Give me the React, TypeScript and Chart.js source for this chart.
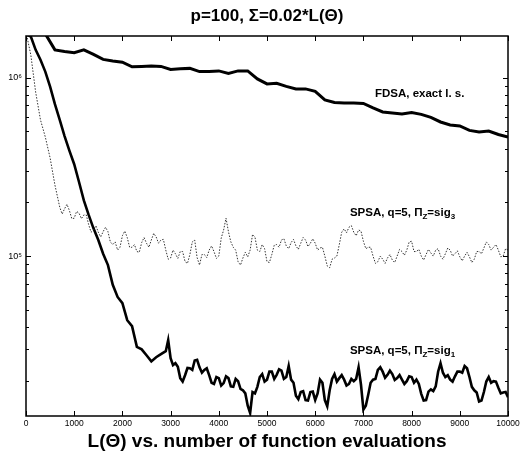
import React, { useEffect, useRef } from "react";
import { Chart, registerables } from "chart.js";

Chart.register(...registerables);

const FONT = "'Liberation Sans', Arial, Helvetica, sans-serif";

const TITLE = "p=100, Σ=0.02*L(Θ)";
const X_TITLE = "L(Θ) vs. number of function evaluations";

const X_TICKS = [0, 1000, 2000, 3000, 4000, 5000, 6000, 7000, 8000, 9000, 10000];
const Y_MAJOR = [1e5, 1e6];
const Y_MINOR = [2e4, 3e4, 4e4, 5e4, 6e4, 7e4, 8e4, 9e4, 2e5, 3e5, 4e5, 5e5, 6e5, 7e5, 8e5, 9e5];
const Y_MIN = 1.27e4;
const Y_MAX = 1.71e6;

// FDSA, exact line search (one iteration every 200 evaluations)
const fdsaX = [0, 200, 400, 600, 800, 1000, 1200, 1400, 1600, 1800, 2000, 2200, 2400, 2600, 2800, 3000, 3200, 3400, 3600, 3800, 4000, 4200, 4400, 4600, 4800, 5000, 5200, 5400, 5600, 5800, 6000, 6200, 6400, 6600, 6800, 7000, 7200, 7400, 7600, 7800, 8000, 8200, 8400, 8600, 8800, 9000, 9200, 9400, 9600, 9800, 10000];
const fdsaY = [1.76e6, 1.76e6, 1.76e6, 1.43e6, 1.40e6, 1.38e6, 1.43e6, 1.35e6, 1.265e6, 1.24e6, 1.22e6, 1.15e6, 1.155e6, 1.16e6, 1.155e6, 1.11e6, 1.12e6, 1.126e6, 1.08e6, 1.08e6, 1.09e6, 1.056e6, 1.09e6, 1.09e6, 0.983e6, 0.922e6, 0.928e6, 0.893e6, 0.864e6, 0.864e6, 0.837e6, 0.75e6, 0.726e6, 0.72e6, 0.72e6, 0.716e6, 0.676e6, 0.642e6, 0.634e6, 0.626e6, 0.638e6, 0.622e6, 0.598e6, 0.564e6, 0.543e6, 0.536e6, 0.506e6, 0.496e6, 0.502e6, 0.48e6, 0.465e6];

// SPSA, q=5, Pi_Z = sig_1 (thick solid)
const sig1X = [0, 100, 200, 300, 400, 500, 600, 700, 800, 900, 1000, 1100, 1200, 1300, 1400, 1500, 1600, 1700, 1800, 1900, 2000, 2100, 2200, 2300, 2400, 2500, 2600, 2700, 2800, 2900, 2950,
  3000, 3050, 3100, 3150, 3200, 3250, 3300, 3350, 3400, 3450, 3500, 3550, 3600, 3650, 3700, 3750, 3800, 3850, 3900, 3950,
  4000, 4050, 4100, 4150, 4200, 4250, 4300, 4350, 4400, 4450, 4500, 4550, 4600, 4650, 4700, 4750, 4800, 4850, 4900, 4950,
  5000, 5050, 5100, 5150, 5200, 5250, 5300, 5350, 5400, 5450, 5500, 5550, 5600, 5650, 5700, 5750, 5800, 5850, 5900, 5950,
  6000, 6050, 6100, 6150, 6200, 6250, 6300, 6350, 6400, 6450, 6500, 6550, 6600, 6650, 6700, 6750, 6800, 6850, 6900, 6950,
  7000, 7050, 7100, 7150, 7200, 7250, 7300, 7350, 7400, 7450, 7500, 7550, 7600, 7650, 7700, 7750, 7800, 7850, 7900, 7950,
  8000, 8050, 8100, 8150, 8200, 8250, 8300, 8350, 8400, 8450, 8500, 8550, 8600, 8650, 8700, 8750, 8800, 8850, 8900, 8950,
  9000, 9050, 9100, 9150, 9200, 9250, 9300, 9350, 9400, 9450, 9500, 9550, 9600, 9650, 9700, 9750, 9800, 9850, 9900, 9950, 10000];
const sig1Y = [1.75e6, 1.70e6, 1.43e6, 1.26e6, 1.08e6, 8.9e5, 7.1e5, 5.8e5, 4.7e5, 3.9e5, 3.27e5, 2.6e5, 2.05e5, 1.70e5, 1.43e5, 1.23e5, 1.03e5, 8.9e4, 6.9e4, 5.9e4, 5.45e4, 4.37e4, 4.05e4, 3.1e4, 3.0e4, 2.78e4, 2.57e4, 2.71e4, 2.82e4, 2.93e4, 3.38e4,
  2.68e4, 2.45e4, 2.51e4, 2.40e4, 2.07e4, 1.98e4, 2.15e4, 2.36e4, 2.35e4, 2.30e4, 2.60e4, 2.62e4, 2.38e4, 2.22e4, 2.30e4, 2.35e4, 2.15e4, 1.95e4, 1.92e4, 2.10e4,
  2.07e4, 1.88e4, 1.94e4, 2.12e4, 2.07e4, 1.86e4, 1.85e4, 2.05e4, 1.99e4, 1.80e4, 1.77e4, 1.70e4, 1.45e4, 1.32e4, 1.73e4, 1.70e4, 1.85e4, 2.10e4, 2.18e4, 1.98e4,
  2.03e4, 2.25e4, 2.25e4, 2.05e4, 2.16e4, 2.32e4, 2.28e4, 2.05e4, 2.10e4, 2.42e4, 2.03e4, 1.95e4, 1.65e4, 1.58e4, 1.73e4, 1.75e4, 1.56e4, 1.55e4, 1.73e4, 1.74e4,
  1.56e4, 1.70e4, 2.03e4, 1.95e4, 1.56e4, 1.44e4, 1.77e4, 2.05e4, 2.18e4, 1.98e4, 2.07e4, 2.15e4, 2.03e4, 1.88e4, 1.92e4, 2.05e4, 1.99e4, 2.05e4, 2.38e4, 1.90e4,
  1.38e4, 1.45e4, 1.67e4, 1.95e4, 2.03e4, 2.05e4, 2.30e4, 2.38e4, 2.25e4, 2.08e4, 2.16e4, 2.28e4, 2.18e4, 2.02e4, 2.07e4, 2.15e4, 2.03e4, 1.92e4, 1.99e4, 2.12e4,
  2.10e4, 1.95e4, 2.03e4, 1.92e4, 1.69e4, 1.55e4, 1.56e4, 1.74e4, 1.79e4, 1.75e4, 1.86e4, 2.25e4, 2.51e4, 2.22e4, 2.10e4, 2.15e4, 2.03e4, 1.98e4, 2.12e4, 2.25e4,
  2.25e4, 2.22e4, 2.42e4, 2.35e4, 2.10e4, 1.85e4, 1.77e4, 1.72e4, 1.53e4, 1.55e4, 1.73e4, 1.98e4, 2.10e4, 1.95e4, 1.99e4, 1.98e4, 1.83e4, 1.70e4, 1.72e4, 1.73e4, 1.62e4];

// SPSA, q=5, Pi_Z = sig_3 (dotted)
const sig3X = [0, 100, 200, 300, 400, 500, 600,
  700, 750, 800, 850, 900, 950, 1000, 1050, 1100, 1150, 1200, 1250, 1300, 1350, 1400, 1450, 1500, 1550, 1600, 1650, 1700, 1750, 1800, 1850, 1900, 1950,
  2000, 2050, 2100, 2150, 2200, 2250, 2300, 2350, 2400, 2450, 2500, 2550, 2600, 2650, 2700, 2750, 2800, 2850, 2900, 2950,
  3000, 3050, 3100, 3150, 3200, 3250, 3300, 3350, 3400, 3450, 3500, 3550, 3600, 3650, 3700, 3750, 3800, 3850, 3900, 3950,
  4000, 4050, 4100, 4150, 4200, 4250, 4300, 4350, 4400, 4450, 4500, 4550, 4600, 4650, 4700, 4750, 4800, 4850, 4900, 4950,
  5000, 5050, 5100, 5150, 5200, 5250, 5300, 5350, 5400, 5450, 5500, 5550, 5600, 5650, 5700, 5750, 5800, 5850, 5900, 5950,
  6000, 6050, 6100, 6150, 6200, 6250, 6300, 6350, 6400, 6450, 6500, 6550, 6600, 6650, 6700, 6750, 6800, 6850, 6900, 6950,
  7000, 7050, 7100, 7150, 7200, 7250, 7300, 7350, 7400, 7450, 7500, 7550, 7600, 7650, 7700, 7750, 7800, 7850, 7900, 7950,
  8000, 8050, 8100, 8150, 8200, 8250, 8300, 8350, 8400, 8450, 8500, 8550, 8600, 8650, 8700, 8750, 8800, 8850, 8900, 8950,
  9000, 9050, 9100, 9150, 9200, 9250, 9300, 9350, 9400, 9450, 9500, 9550, 9600, 9650, 9700, 9750, 9800, 9850, 9900, 9950, 10000];
const sig3Y = [1.8e6, 1.34e6, 8.3e5, 5.8e5, 4.65e5, 3.55e5, 2.5e5,
  1.88e5, 1.72e5, 1.84e5, 1.95e5, 1.80e5, 1.62e5, 1.63e5, 1.78e5, 1.74e5, 1.62e5, 1.70e5, 1.70e5, 1.50e5, 1.36e5, 1.40e5, 1.48e5, 1.36e5, 1.28e5, 1.37e5, 1.45e5, 1.37e5, 1.20e5, 1.16e5, 1.20e5, 1.08e5, 1.12e5,
  1.30e5, 1.38e5, 1.27e5, 1.12e5, 1.12e5, 1.16e5, 1.06e5, 1.05e5, 1.19e5, 1.27e5, 1.18e5, 1.12e5, 1.23e5, 1.34e5, 1.28e5, 1.18e5, 1.23e5, 1.24e5, 1.08e5, 0.96e5,
  0.975e5, 1.08e5, 1.03e5, 0.97e5, 1.06e5, 1.06e5, 0.93e5, 0.91e5, 1.02e5, 1.20e5, 1.23e5, 0.98e5, 0.89e5, 1.02e5, 1.02e5, 0.98e5, 1.08e5, 1.14e5, 1.06e5, 0.97e5,
  1.00e5, 1.26e5, 1.40e5, 1.63e5, 1.37e5, 1.20e5, 1.12e5, 1.08e5, 0.93e5, 0.89e5, 0.975e5, 1.05e5, 0.99e5, 1.08e5, 1.32e5, 1.28e5, 1.08e5, 1.06e5, 1.16e5, 1.10e5,
  0.93e5, 0.92e5, 1.02e5, 1.15e5, 1.16e5, 1.12e5, 1.23e5, 1.25e5, 1.14e5, 1.10e5, 1.19e5, 1.24e5, 1.14e5, 1.09e5, 1.18e5, 1.27e5, 1.23e5, 1.13e5, 1.18e5, 1.25e5,
  1.18e5, 1.08e5, 1.11e5, 1.12e5, 1.00e5, 0.88e5, 0.86e5, 0.96e5, 0.975e5, 1.00e5, 1.16e5, 1.36e5, 1.42e5, 1.35e5, 1.45e5, 1.48e5, 1.36e5, 1.30e5, 1.40e5, 1.38e5,
  1.21e5, 1.10e5, 1.12e5, 1.12e5, 1.00e5, 0.91e5, 0.93e5, 1.00e5, 0.96e5, 0.91e5, 0.975e5, 1.02e5, 0.95e5, 0.92e5, 1.00e5, 1.09e5, 1.06e5, 1.01e5, 1.08e5, 1.20e5,
  1.21e5, 1.06e5, 1.06e5, 1.09e5, 1.00e5, 0.95e5, 1.02e5, 1.09e5, 1.04e5, 1.00e5, 1.08e5, 1.10e5, 1.00e5, 0.96e5, 1.03e5, 1.11e5, 1.08e5, 1.00e5, 1.03e5, 1.07e5,
  0.99e5, 0.94e5, 1.00e5, 1.05e5, 0.99e5, 0.92e5, 0.96e5, 1.06e5, 1.06e5, 1.03e5, 1.11e5, 1.20e5, 1.16e5, 1.08e5, 1.12e5, 1.16e5, 1.08e5, 0.99e5, 1.00e5, 1.10e5, 1.08e5];

// Text annotations (anchored at data coordinates, left aligned)
type Part = { t: string; sub?: boolean };
const annotations: { x: number; y: number; parts: Part[] }[] = [
  { x: 7240, y: 8.1e5, parts: [{ t: "FDSA, exact l. s." }] },
  { x: 6720, y: 1.74e5, parts: [{ t: "SPSA, q=5, Π" }, { t: "Z", sub: true }, { t: "=sig" }, { t: "3", sub: true }] },
  { x: 6720, y: 2.93e4, parts: [{ t: "SPSA, q=5, Π" }, { t: "Z", sub: true }, { t: "=sig" }, { t: "1", sub: true }] },
];

const toPts = (xs: number[], ys: number[]) => xs.map((x, i) => ({ x, y: ys[i] }));

const framePlugin = {
  id: "matlabFrame",
  afterDatasetsDraw(chart: any) {
    const { ctx, chartArea, scales } = chart;
    const { left, right, top, bottom } = chartArea;
    const xs = scales.x;
    const ys = scales.y;
    ctx.save();
    ctx.strokeStyle = "#000";
    ctx.lineWidth = 1;
    ctx.beginPath();
    for (const v of X_TICKS) {
      const px = Math.round(xs.getPixelForValue(v)) + 0.5;
      ctx.moveTo(px, bottom);
      ctx.lineTo(px, bottom - 5);
      ctx.moveTo(px, top);
      ctx.lineTo(px, top + 5);
    }
    for (const v of Y_MAJOR) {
      const py = Math.round(ys.getPixelForValue(v)) + 0.5;
      ctx.moveTo(left, py);
      ctx.lineTo(left + 5, py);
      ctx.moveTo(right, py);
      ctx.lineTo(right - 5, py);
    }
    for (const v of Y_MINOR) {
      const py = Math.round(ys.getPixelForValue(v)) + 0.5;
      ctx.moveTo(left, py);
      ctx.lineTo(left + 3, py);
      ctx.moveTo(right, py);
      ctx.lineTo(right - 3, py);
    }
    ctx.stroke();
    ctx.lineWidth = 1.5;
    ctx.strokeRect(left, top, right - left, bottom - top);

    // annotations
    ctx.fillStyle = "#000";
    ctx.textBaseline = "middle";
    ctx.textAlign = "left";
    for (const a of annotations) {
      let px = xs.getPixelForValue(a.x);
      const py = ys.getPixelForValue(a.y);
      for (const p of a.parts) {
        if (p.sub) {
          ctx.font = `bold 8px ${FONT}`;
          ctx.fillText(p.t, px, py + 4);
        } else {
          ctx.font = `bold 11.5px ${FONT}`;
          ctx.fillText(p.t, px, py);
        }
        px += ctx.measureText(p.t).width;
      }
    }
    ctx.restore();
  },
};

export default function App() {
  const ref = useRef<HTMLCanvasElement | null>(null);
  useEffect(() => {
    if (!ref.current) return;
    const chart = new Chart(ref.current, {
      type: "line",
      data: {
        datasets: [
          {
            label: "SPSA sig3",
            data: toPts(sig3X, sig3Y),
            borderColor: "#333",
            borderWidth: 1,
            borderDash: [1.5, 1.5],
            pointRadius: 0,
            tension: 0,
            clip: 0,
          },
          {
            label: "SPSA sig1",
            data: toPts(sig1X, sig1Y),
            borderColor: "#000",
            borderWidth: 2.6,
            pointRadius: 0,
            tension: 0,
            clip: 0,
          },
          {
            label: "FDSA",
            data: toPts(fdsaX, fdsaY),
            borderColor: "#000",
            borderWidth: 3,
            pointRadius: 0,
            tension: 0,
            clip: 0,
          },
        ],
      },
      options: {
        animation: false,
        responsive: false,
        devicePixelRatio: 1,
        layout: { padding: { left: 0, right: 13, top: 0, bottom: 0 } },
        plugins: {
          legend: { display: false },
          tooltip: { enabled: false },
          title: {
            display: true,
            text: TITLE,
            color: "#000",
            fullSize: false,
            font: { family: FONT, size: 17, weight: "bold", lineHeight: 1.2 },
            padding: { top: 6, bottom: 9.6 },
          },
        },
        scales: {
          x: {
            type: "linear",
            min: 0,
            max: 10000,
            grid: { display: false, drawTicks: false },
            border: { display: false },
            ticks: {
              stepSize: 1000,
              autoSkip: false,
              maxRotation: 0,
              padding: 3,
              color: "#000",
              font: { family: FONT, size: 8.5 },
              callback: (v: any) => String(v),
            },
            title: {
              display: true,
              text: X_TITLE,
              color: "#000",
              font: { family: FONT, size: 19, weight: "bold", lineHeight: 1.2 },
              padding: { top: 0, bottom: 1 },
            },
            afterFit: (s: any) => {
              s.height = 38;
              s.paddingLeft = 0;
              s.paddingRight = 0;
            },
          },
          y: {
            type: "logarithmic",
            min: Y_MIN,
            max: Y_MAX,
            grid: { display: false, drawTicks: false },
            border: { display: false },
            ticks: {
              autoSkip: false,
              padding: 4,
              color: "#000",
              font: { family: FONT, size: 9 },
              callback: (v: any) => (v === 1e5 ? "10⁵" : v === 1e6 ? "10⁶" : ""),
            },
            afterFit: (s: any) => {
              s.width = 26;
              s.paddingTop = 0;
              s.paddingBottom = 0;
            },
          },
        },
      },
      plugins: [framePlugin],
    } as any);
    return () => chart.destroy();
  }, []);
  return (
    <div style={{ position: "absolute", left: 0, top: 0, width: 521, height: 454, background: "#fff" }}>
      <canvas ref={ref} width={521} height={454} style={{ display: "block" }} />
    </div>
  );
}
